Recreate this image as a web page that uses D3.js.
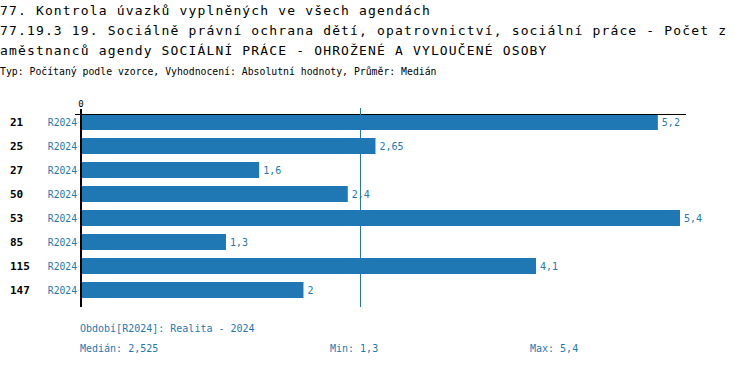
<!DOCTYPE html>
<html><head><meta charset="utf-8">
<script src="https://cdn.jsdelivr.net/npm/d3@7"></script>
<style>
body{margin:0;background:#fff;}
svg text{font-family:"DejaVu Sans Mono",monospace;}
</style></head>
<body><svg id="c" width="750" height="366"></svg>
<script>
const titleLines = [
  "77. Kontrola úvazků vyplněných ve všech agendách",
  "77.19.3 19. Sociálně právní ochrana dětí, opatrovnictví, sociální práce - Počet z",
  "aměstnanců agendy SOCIÁLNÍ PRÁCE - OHROŽENÉ A VYLOUČENÉ OSOBY"
];
const subtitle = "Typ: Počítaný podle vzorce, Vyhodnocení: Absolutní hodnoty, Průměr: Medián";
const categories = ["21","25","27","50","53","85","115","147"];
const periods = ["R2024","R2024","R2024","R2024","R2024","R2024","R2024","R2024"];
const values = [5.2, 2.65, 1.6, 2.4, 5.4, 1.3, 4.1, 2];
const valueLabels = ["5,2","2,65","1,6","2,4","5,4","1,3","4,1","2"];
const median = 2.525;
const footerPeriod = "Období[R2024]: Realita - 2024";
const footerStats = ["Medián: 2,525","Min: 1,3","Max: 5,4"];

const blue = "#1f77b4";
const svg = d3.select("#c");

const tb = [15, 35, 55];
titleLines.forEach((t,i)=>{
  svg.append("text").attr("x",0).attr("y",tb[i]).attr("font-size",13)
    .attr("letter-spacing","1.15px").attr("fill","#000").text(t);
});
svg.append("text").attr("x",0).attr("y",75).attr("font-size",9.8).attr("fill","#000").text(subtitle);

const x = d3.scaleLinear().domain([0, 5.4]).range([82, 680]);
const step = 24, bh = 16, top0 = 114;
const y = d3.scaleLinear().domain([0, 1]).range([top0, top0 + step]);
const yPos = i => y(i);

svg.selectAll("rect.bar").data(values).join("rect").attr("class","bar")
  .attr("x", x(0)).attr("y",(d,i)=>yPos(i)).attr("width",d=>x(d)-x(0)).attr("height",bh)
  .attr("fill",blue);

svg.append("line").attr("x1",75).attr("x2",686).attr("y1",114.5).attr("y2",114.5)
  .attr("stroke","#000").attr("stroke-width",1);

const mx = Math.floor(x(median)) - 1 + 0.5;
svg.append("line").attr("x1",mx).attr("x2",mx)
  .attr("y1",108).attr("y2",307).attr("stroke",blue).attr("stroke-width",1);

svg.append("line").attr("x1",81).attr("x2",81).attr("y1",109).attr("y2",307)
  .attr("stroke","#000").attr("stroke-width",2);

svg.append("text").attr("x",81).attr("y",107).attr("text-anchor","middle").attr("font-size",9).attr("fill","#000").text("0");

svg.selectAll("text.val").data(values).join("text").attr("class","val")
  .attr("x",d=>x(d)+4).attr("y",(d,i)=>yPos(i)+bh/2+4).attr("font-size",10)
  .attr("fill",blue).text((d,i)=>valueLabels[i]);

svg.selectAll("text.per").data(periods).join("text").attr("class","per")
  .attr("x",77).attr("y",(d,i)=>yPos(i)+bh/2+4).attr("text-anchor","end").attr("font-size",9.7)
  .attr("fill",blue).text(d=>d);

svg.selectAll("text.cat").data(categories).join("text").attr("class","cat")
  .attr("x",10).attr("y",(d,i)=>yPos(i)+bh/2+4).attr("font-size",11).attr("font-weight","bold")
  .attr("fill","#000").text(d=>d);

svg.append("text").attr("x",80).attr("y",332).attr("font-size",10).attr("fill",blue).text(footerPeriod);
const fx = [80, 330, 530];
footerStats.forEach((t,i)=>{
  svg.append("text").attr("x",fx[i]).attr("y",352).attr("font-size",10).attr("fill",blue).text(t);
});
</script></body></html>
